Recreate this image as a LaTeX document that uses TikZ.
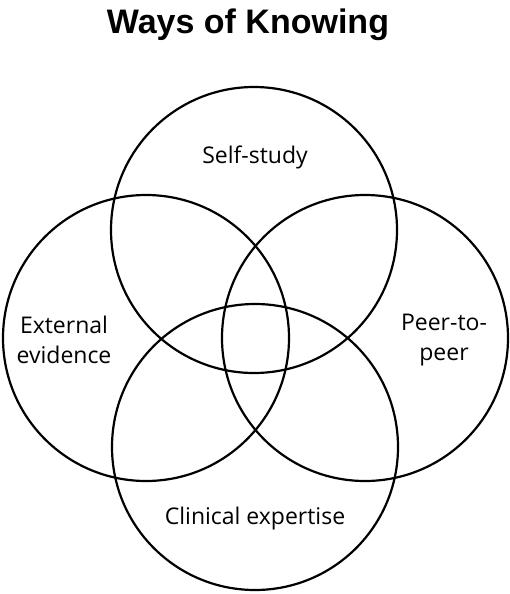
\documentclass[tikz,border=0pt]{standalone}
\usepackage{fontspec}
\setmainfont{Open Sans}
\newfontfamily\titlefont{Liberation Sans}
\begin{document}
\begin{tikzpicture}[x=1pt,y=-1pt,
  venn/.style={draw=black,line width=2.2pt},
  lbl/.style={font=\fontsize{23}{30}\selectfont,align=center,inner sep=0pt},
  ttl/.style={font=\titlefont\bfseries\fontsize{34}{40}\selectfont,inner sep=0pt}]
\useasboundingbox (0,0) rectangle (510,594);
\coordinate (ct) at (254,230);
\coordinate (cl) at (146,338);
\coordinate (cr) at (365,338);
\coordinate (cb) at (255,447);
\draw[venn] (ct) circle[radius=143];
\draw[venn] (cl) circle[radius=143];
\draw[venn] (cr) circle[radius=143];
\draw[venn] (cb) circle[radius=143];
\node[ttl] (title) at (248,25) {Ways of Knowing};
\node[lbl] (self) at (255,157) {Self-study};
\node[lbl] (ext) at (64,340) {External\\evidence};
\node[lbl] (peer) at (444,340) {Peer-to-\\peer};
\node[lbl] (clin) at (255,519) {Clinical expertise};
\end{tikzpicture}
\end{document}
